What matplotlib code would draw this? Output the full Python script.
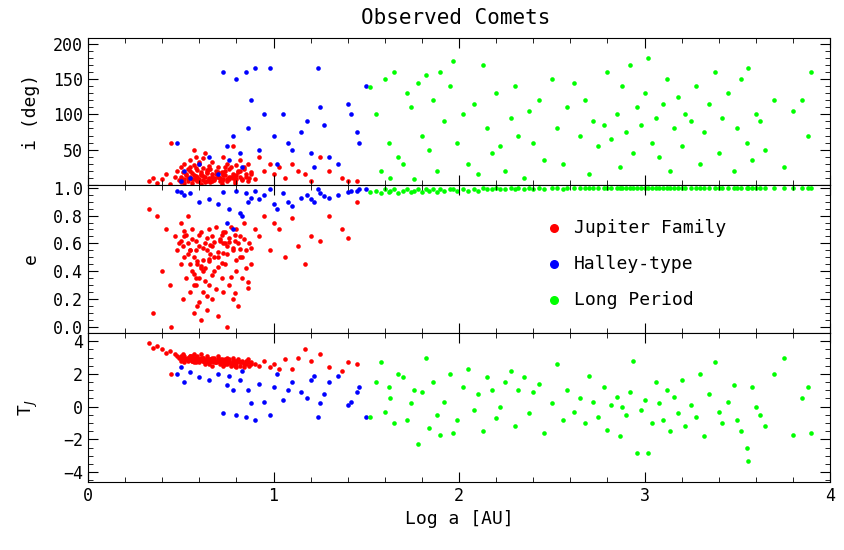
import numpy as np
import matplotlib
matplotlib.use('Agg')
import matplotlib.pyplot as plt
from matplotlib.ticker import MultipleLocator, FuncFormatter

plt.rcParams['font.family'] = ['DejaVu Sans Mono']

# Jupiter family comets
jf_loga = [0.33, 0.35, 0.37, 0.40, 0.42, 0.44, 0.45, 0.47, 0.48, 0.49, 0.50, 0.50, 0.51, 0.52, 0.52, 0.53, 0.54, 0.54, 0.55, 0.55,
           0.56, 0.56, 0.57, 0.57, 0.58, 0.58, 0.59, 0.59, 0.60, 0.60, 0.61, 0.61, 0.62, 0.62, 0.63, 0.63, 0.64, 0.64, 0.65, 0.65,
           0.66, 0.67, 0.67, 0.68, 0.69, 0.70, 0.70, 0.71, 0.72, 0.73, 0.73, 0.74, 0.75, 0.75, 0.76, 0.77, 0.78, 0.78, 0.79, 0.80,
           0.80, 0.81, 0.82, 0.82, 0.83, 0.84, 0.85, 0.86, 0.87, 0.88, 0.90, 0.92, 0.95, 0.98, 1.00, 1.03, 1.06, 1.10, 1.13, 1.17,
           1.20, 1.25, 1.30, 1.37, 1.40, 1.45, 0.57, 0.62, 0.68, 0.74,
           0.50, 0.51, 0.53, 0.54, 0.55, 0.56, 0.57, 0.58, 0.59, 0.60, 0.61, 0.62, 0.63, 0.64, 0.65, 0.66, 0.67, 0.68, 0.69, 0.70,
           0.71, 0.72, 0.73, 0.74, 0.75, 0.76, 0.77, 0.78, 0.79, 0.80, 0.81, 0.83, 0.84, 0.85, 0.86, 0.88, 0.52, 0.55, 0.58, 0.61,
           0.64, 0.67, 0.70, 0.73, 0.76, 0.79, 0.82, 0.60, 0.65, 0.72]
jf_inc = [5, 10, 3, 8, 15, 2, 60, 12, 20, 7, 25, 4, 18, 30, 9, 14, 6, 22, 35, 11,
          3, 17, 28, 8, 40, 13, 5, 21, 9, 32, 16, 2, 24, 7, 12, 45, 19, 6, 27, 10,
          4, 15, 33, 8, 20, 12, 25, 5, 18, 40, 9, 14, 30, 6, 22, 11, 55, 16, 3, 28,
          8, 20, 12, 35, 7, 25, 15, 30, 10, 18, 8, 40, 20, 30, 15, 25, 10, 30, 20, 15,
          5, 40, 20, 10, 5, 5, 50, 38, 10, 25,
          12, 6, 16, 10, 20, 8, 14, 24, 11, 6, 19, 13, 4, 17, 9, 22, 12, 7, 15, 18,
          10, 5, 14, 20, 8, 12, 26, 10, 6, 14, 18, 9, 22, 12, 6, 15, 3, 26, 9, 14,
          21, 5, 11, 16, 8, 12, 20, 30, 23, 2]
jf_ecc = [0.85, 0.10, 0.80, 0.40, 0.70, 0.30, 0.00, 0.65, 0.55, 0.60, 0.75, 0.45, 0.20, 0.65, 0.50, 0.35, 0.80, 0.60, 0.25, 0.55,
          0.40, 0.70, 0.10, 0.50, 0.62, 0.30, 0.45, 0.15, 0.58, 0.35, 0.68, 0.05, 0.48, 0.25, 0.60, 0.42, 0.12, 0.55, 0.70, 0.30,
          0.52, 0.20, 0.65, 0.40, 0.72, 0.08, 0.50, 0.62, 0.35, 0.25, 0.68, 0.45, 0.00, 0.58, 0.30, 0.72, 0.55, 0.20, 0.62, 0.40,
          0.70, 0.15, 0.50, 0.65, 0.35, 0.75, 0.55, 0.28, 0.60, 0.45, 0.70, 0.65, 0.80, 0.55, 0.75, 0.70, 0.50, 0.78, 0.58, 0.45,
          0.65, 0.62, 0.80, 0.70, 0.64, 0.90, 0.30, 0.40, 0.50, 0.60,
          0.62, 0.58, 0.66, 0.52, 0.45, 0.63, 0.38, 0.55, 0.47, 0.66, 0.42, 0.57, 0.33, 0.64, 0.49, 0.59, 0.37, 0.61, 0.27, 0.54,
          0.63, 0.46, 0.60, 0.68, 0.52, 0.64, 0.36, 0.57, 0.66, 0.48, 0.60, 0.50, 0.63, 0.42, 0.32, 0.57, 0.69, 0.55, 0.35, 0.44,
          0.22, 0.58, 0.43, 0.53, 0.61, 0.24, 0.56, 0.18, 0.47, 0.66]
jf_tj = [3.9, 3.6, 3.7, 3.5, 3.3, 3.4, 2.0, 3.2, 3.1, 3.0, 2.8, 3.0, 3.2, 2.7, 3.1, 2.9, 3.0, 2.8, 2.9, 3.0,
         3.1, 2.8, 3.2, 2.9, 2.7, 3.0, 2.9, 3.1, 2.8, 2.7, 2.9, 3.2, 2.8, 3.0, 2.7, 2.6, 3.1, 2.8, 2.6, 2.9,
         2.8, 3.0, 2.5, 2.9, 2.7, 3.1, 2.8, 2.6, 2.9, 2.5, 2.7, 2.8, 3.0, 2.6, 2.9, 2.5, 2.6, 3.0, 2.5, 2.8,
         2.4, 2.9, 2.7, 2.5, 2.8, 2.4, 2.6, 2.9, 2.5, 2.7, 2.6, 2.5, 2.8, 2.4, 2.6, 2.3, 2.9, 2.3, 3.0, 3.5,
         2.8, 3.2, 2.4, 2.2, 2.7, 2.6, 2.7, 2.8, 2.7, 2.6,
         3.1, 3.0, 2.9, 3.0, 3.1, 2.8, 3.0, 2.9, 3.0, 2.8, 2.9, 3.0, 2.8, 2.9, 2.7, 2.9, 2.8, 3.0, 2.7, 2.8,
         2.9, 2.7, 2.8, 2.9, 2.7, 2.8, 2.6, 2.8, 2.7, 2.6, 2.8, 2.7, 2.6, 2.8, 2.7, 2.6, 3.0, 3.1, 2.9, 3.0,
         2.9, 2.8, 2.9, 2.8, 2.7, 2.8, 2.7, 2.9, 2.8, 2.8]

# Halley-type comets
ht_loga = [0.48, 0.50, 0.52, 0.55, 0.60, 0.65, 0.70, 0.73, 0.75, 0.76, 0.78, 0.80, 0.82, 0.83, 0.85, 0.86, 0.88, 0.90, 0.92, 0.95,
           0.98, 1.00, 1.02, 1.05, 1.08, 1.10, 1.15, 1.18, 1.20, 1.22, 1.24, 1.25, 1.27, 1.30, 1.35, 1.40, 1.42, 1.45, 1.46, 1.50]
ht_inc = [60, 5, 20, 10, 30, 40, 15, 160, 55, 35, 70, 150, 45, 25, 160, 80, 120, 165, 50, 100,
          165, 70, 30, 100, 60, 50, 75, 90, 45, 25, 165, 110, 85, 40, 30, 115, 100, 75, 60, 140]
ht_ecc = [0.98, 0.97, 0.95, 0.96, 0.90, 0.92, 0.88, 0.97, 0.75, 0.85, 0.70, 0.98, 0.82, 0.80, 0.96, 0.90, 0.93, 0.98, 0.92, 0.95,
          0.99, 0.88, 0.85, 0.96, 0.90, 0.87, 0.93, 0.95, 0.92, 0.90, 0.99, 0.96, 0.94, 0.93, 0.95, 0.97, 0.98, 0.98, 0.99, 0.99]
ht_tj = [2.0, 2.4, 1.5, 2.1, 1.8, 1.6, 2.0, -0.4, 1.3, 1.9, 1.0, -0.5, 1.6, 2.2, -0.6, 1.0, 0.2, -0.8, 1.4, 0.3,
         -0.5, 1.2, 2.0, 0.4, 1.0, 1.5, 0.9, 0.5, 1.6, 1.9, -0.6, 0.2, 0.8, 1.5, 1.9, 0.1, 0.3, 0.9, 1.2, -0.6]

# Long period comets: (log a, i, e, Tj)
lp_rows = [
    (1.52, 138, 0.97, -0.6), (1.55, 100, 0.98, 1.5), (1.58, 20, 0.96, 2.7), (1.60, 150, 0.99, -0.3),
    (1.62, 60, 0.97, 1.2), (1.63, 10, 0.98, 0.5), (1.65, 160, 0.99, -1.0), (1.67, 40, 0.96, 2.0),
    (1.70, 30, 0.98, 1.8), (1.72, 130, 0.99, -0.8), (1.74, 110, 0.97, 0.2), (1.76, 8, 0.98, 1.0),
    (1.78, 145, 0.99, -2.3), (1.80, 70, 0.97, 0.9), (1.82, 155, 0.99, 3.0), (1.84, 50, 0.98, -1.3),
    (1.86, 120, 0.99, 1.5), (1.88, 20, 0.97, -0.5), (1.90, 160, 0.99, -1.7), (1.92, 90, 0.98, 0.3),
    (1.95, 140, 0.99, 2.0), (1.97, 175, 0.99, -1.6), (1.99, 60, 0.98, -0.8), (2.02, 100, 0.99, 1.2),
    (2.05, 30, 0.98, 2.3), (2.08, 115, 0.99, -0.2), (2.10, 15, 0.98, 0.8), (2.13, 170, 1.00, -1.5),
    (2.15, 80, 0.99, 1.8), (2.18, 45, 0.99, 1.0), (2.20, 130, 1.00, -0.7), (2.22, 55, 0.99, 0.0),
    (2.25, 20, 0.99, 1.5), (2.28, 95, 1.00, 2.2), (2.30, 140, 0.99, -1.2), (2.32, 70, 1.00, 1.0),
    (2.35, 10, 0.99, 1.8), (2.38, 105, 1.00, -0.4), (2.40, 60, 0.99, 0.9), (2.43, 120, 1.00, 1.4),
    (2.46, 35, 0.99, -1.6), (2.50, 150, 1.00, 0.2), (2.53, 80, 1.00, 2.6), (2.56, 30, 0.99, -0.8),
    (2.58, 110, 1.00, 1.0), (2.62, 145, 1.00, -0.3), (2.65, 70, 1.00, 0.5), (2.68, 120, 1.00, -1.0),
    (2.70, 15, 1.00, 1.9), (2.72, 90, 1.00, 0.3), (2.75, 55, 1.00, -0.6), (2.78, 85, 1.00, 1.2),
    (2.80, 160, 1.00, -1.4), (2.82, 65, 1.00, 0.1), (2.85, 100, 1.00, 0.6), (2.87, 25, 1.00, -1.8),
    (2.88, 140, 1.00, 0.0), (2.90, 75, 1.00, -0.5), (2.92, 170, 1.00, 0.9), (2.94, 45, 1.00, 2.8),
    (2.96, 110, 1.00, -2.8), (2.98, 85, 1.00, -0.2), (3.00, 130, 1.00, 0.4), (3.02, 180, 1.00, -2.8),
    (3.04, 60, 1.00, -1.0), (3.06, 95, 1.00, 1.5), (3.08, 40, 1.00, 0.2), (3.10, 115, 1.00, -0.8),
    (3.12, 150, 1.00, 1.0), (3.14, 20, 1.00, -1.5), (3.16, 80, 1.00, 0.6), (3.18, 125, 1.00, -0.4),
    (3.20, 55, 1.00, 1.6), (3.22, 100, 1.00, -1.2), (3.25, 90, 1.00, 0.1), (3.28, 140, 1.00, -0.6),
    (3.30, 30, 1.00, 2.0), (3.32, 75, 1.00, -1.8), (3.35, 115, 1.00, 0.8), (3.38, 160, 1.00, 2.7),
    (3.40, 45, 1.00, -0.3), (3.42, 95, 1.00, -1.0), (3.45, 130, 1.00, 0.3), (3.48, 20, 1.00, 1.3),
    (3.50, 80, 1.00, -0.8), (3.52, 150, 1.00, -1.5), (3.55, 60, 1.00, -2.5), (3.56, 165, 1.00, -3.3),
    (3.58, 35, 1.00, 1.2), (3.60, 100, 1.00, 0.0), (3.62, 90, 1.00, -0.5), (3.65, 50, 1.00, -1.2),
    (3.70, 120, 1.00, 2.0), (3.75, 25, 1.00, 3.0), (3.80, 105, 1.00, -1.7), (3.85, 120, 1.00, 0.5),
    (3.88, 70, 1.00, 1.2), (3.90, 160, 1.00, -1.6),
]
lp_loga, lp_inc, lp_ecc, lp_tj = [list(c) for c in zip(*lp_rows)]

fig = plt.figure(figsize=(8.44, 5.5), dpi=100)
L, R = 88 / 844, 830 / 844
tops = [38, 185, 333, 482]
axes = []
for k in range(3):
    b = 1 - tops[k + 1] / 550
    h = (tops[k + 1] - tops[k]) / 550
    axes.append(fig.add_axes([L, b, R - L, h]))

groups = [
    (jf_loga, jf_inc, jf_ecc, jf_tj, 'red'),
    (ht_loga, ht_inc, ht_ecc, ht_tj, 'blue'),
    (lp_loga, lp_inc, lp_ecc, lp_tj, '#00ff00'),
]
for x, inc, ecc, tj, col in groups:
    axes[0].scatter(x, inc, s=11, color=col, linewidths=0)
    axes[1].scatter(x, ecc, s=11, color=col, linewidths=0)
    axes[2].scatter(x, tj, s=11, color=col, linewidths=0)

axes[0].set_ylim(0, 208)
axes[0].yaxis.set_major_locator(MultipleLocator(50))
axes[0].yaxis.set_minor_locator(MultipleLocator(10))
axes[0].yaxis.set_major_formatter(FuncFormatter(lambda v, p: '' if v == 0 else f'{v:.0f}'))
axes[0].set_ylabel('i (deg)', fontsize=13)
axes[1].set_ylim(-0.045, 1.02)
axes[1].yaxis.set_major_locator(MultipleLocator(0.2))
axes[1].yaxis.set_minor_locator(MultipleLocator(0.05))
axes[1].set_ylabel('e', fontsize=13)
axes[2].set_ylim(-4.6, 4.5)
axes[2].yaxis.set_major_locator(MultipleLocator(2))
axes[2].yaxis.set_minor_locator(MultipleLocator(0.5))
axes[2].set_ylabel('T$_J$', fontsize=13)

for i, ax in enumerate(axes):
    ax.set_xlim(0, 4)
    ax.xaxis.set_major_locator(MultipleLocator(1))
    ax.xaxis.set_minor_locator(MultipleLocator(0.2))
    ax.tick_params(which='both', direction='in', top=True, right=True, labelsize=12)
    ax.tick_params(which='major', length=7)
    ax.tick_params(which='minor', length=3.5)
    ax.yaxis.set_label_coords(-0.065, 0.5)
    if i < 2:
        ax.tick_params(labelbottom=False)

axes[2].set_xlabel('Log a [AU]', fontsize=13)
fig.text(0.54, 1 - 18 / 550, 'Observed Comets', ha='center', va='center', fontsize=15)

labels = ['Jupiter Family', 'Halley-type', 'Long Period']
cols = ['red', 'blue', '#00ff00']
for k, (lab, col) in enumerate(zip(labels, cols)):
    yy = 0.71 - 0.245 * k
    axes[1].scatter([0.628], [yy], s=30, color=col, transform=axes[1].transAxes)
    axes[1].text(0.655, yy, lab, transform=axes[1].transAxes, va='center', fontsize=13)

fig.savefig('out.png', dpi=100)
